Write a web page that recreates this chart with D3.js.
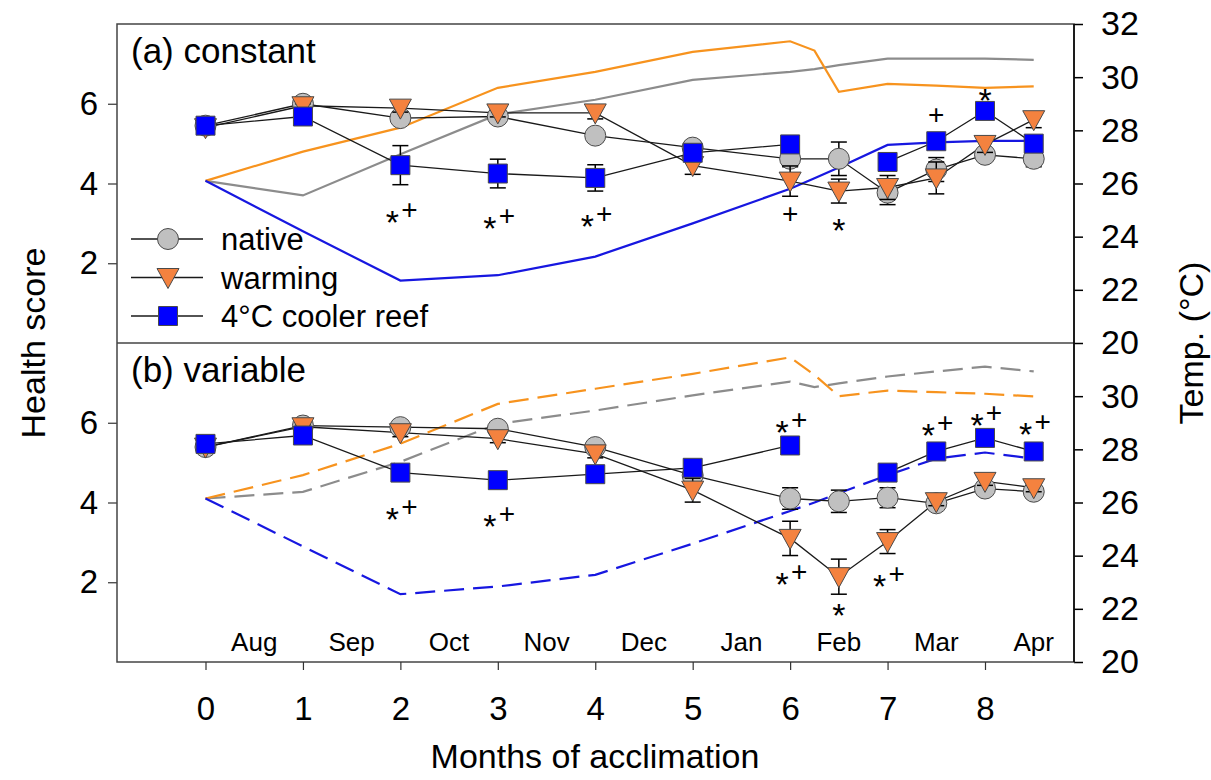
<!DOCTYPE html>
<html>
<head>
<meta charset="utf-8">
<script src="https://cdn.jsdelivr.net/npm/d3@7"></script>
<style>
  body { margin: 0; background: #fff; }
  svg { display: block; }
  text { font-family: "Liberation Sans", Arial, sans-serif; fill: #000; }
</style>
</head>
<body>
<div id="chart"></div>
<script>
// months of acclimation where health was scored
var months = [0, 1, 2, 3, 4, 5, 6, 6.5, 7, 7.5, 8, 8.5]

// (a) constant - health scores
var a_native = [5.45, 6.0, 5.64, 5.68, 5.2, 4.9, 4.62, 4.62, 3.77, 4.35, 4.72, 4.62]
var a_native_err = [0.05, 0.05, 0.1, 0.1, 0.15, 0.15, 0.2, 0.42, 0.3, 0.3, 0.15, 0.2]
var a_warming = [5.4, 5.95, 5.89, 5.77, 5.77, 4.45, 4.06, 3.81, 3.9, 4.14, 4.98, 5.6]
var a_warming_err = [0.05, 0.05, 0.1, 0.1, 0.15, 0.22, 0.38, 0.3, 0.3, 0.4, 0.2, 0.2]
var a_cooler = [5.45, 5.68, 4.46, 4.25, 4.14, 4.77, 4.98, null, 4.54, 5.06, 5.82, 5.0]
var a_cooler_err = [0.05, 0.05, 0.49, 0.36, 0.33, 0.2, 0.15, null, 0.2, 0.15, 0.1, 0.15]

// (b) variable - health scores
var b_native = [5.39, 5.93, 5.89, 5.85, 5.39, 4.68, 4.1, 4.03, 4.12, 3.98, 4.35, 4.27]
var b_native_err = [0.05, 0.05, 0.05, 0.05, 0.1, 0.15, 0.27, 0.28, 0.25, 0.1, 0.1, 0.15]
var b_warming = [5.39, 5.9, 5.75, 5.6, 5.22, 4.31, 3.1, 2.14, 3.02, 4.02, 4.53, 4.37]
var b_warming_err = [0.05, 0.05, 0.1, 0.1, 0.1, 0.3, 0.43, 0.44, 0.3, 0.1, 0.1, 0.1]
var b_cooler = [5.47, 5.68, 4.75, 4.56, 4.71, 4.87, 5.43, null, 4.75, 5.28, 5.62, 5.28]
var b_cooler_err = [0.05, 0.05, 0.1, 0.1, 0.1, 0.1, 0.1, null, 0.1, 0.1, 0.1, 0.1]

// temperature profiles (right axis)
var temp_months = [0, 1, 2, 3, 4, 5, 6, 6.25, 6.5, 7, 7.5, 8, 8.5]
var a_temp_warming = [26.1, 27.2, 28.1, 29.6, 30.2, 30.95, 31.35, 31.0, 29.45, 29.75, 29.68, 29.6, 29.65]
var a_temp_native = [26.1, 25.55, 27.1, 28.6, 29.15, 29.9, 30.2, 30.3, 30.45, 30.7, 30.7, 30.7, 30.65]
var a_temp_cooler = [26.1, 24.2, 22.35, 22.55, 23.25, 24.5, 25.8, 26.2, 26.6, 27.45, 27.55, 27.6, 27.6]
var b_temp_warming = [26.15, 27.03, 28.21, 29.71, 30.28, 30.84, 31.46, 30.8, 30.0, 30.21, 30.15, 30.09, 29.99]
var b_temp_native = [26.15, 26.4, 27.53, 28.96, 29.46, 30.03, 30.55, 30.34, 30.48, 30.74, 30.93, 31.11, 30.93]
var b_temp_cooler = [26.15, 24.35, 22.55, 22.84, 23.28, 24.45, 25.68, 26.0, 26.35, 27.03, 27.65, 27.88, 27.65]

// calendar months shown inside panel (b)
var month_names = ['Aug', 'Sep', 'Oct', 'Nov', 'Dec', 'Jan', 'Feb', 'Mar', 'Apr']

// significance labels: panel, month, text, height (health units)
var sig_panel = ['a', 'a', 'a', 'a', 'a', 'a', 'a', 'b', 'b', 'b', 'b', 'b', 'b', 'b', 'b', 'b']
var sig_month = [2, 3, 4, 6, 6.5, 7.5, 8, 2, 3, 6, 6, 6.5, 7, 7.5, 8, 8.5]
var sig_text = ['*+', '*+', '*+', '+', '*', '+', '*', '*+', '*+', '*+', '*+', '*', '*+', '*+', '*+', '*+']
var sig_level = [3.26, 3.11, 3.16, 3.16, 3.06, 5.64, 6.32, 3.81, 3.64, 6.0, 2.18, 1.4, 2.13, 5.92, 6.17, 5.94]

var left_ticks = [2, 4, 6]
var bottom_ticks = [0, 1, 2, 3, 4, 5, 6, 7, 8]

var width = 1211
var height = 780
var frame_left = 117
var frame_right = 1074
var frame_top = 24
var frame_mid = 343
var frame_bottom = 662

var col_native_fill = '#c0c0c0'
var col_warming_fill = '#f4823f'
var col_cooler_fill = '#0000ff'
var col_temp_native = '#8c8c8c'
var col_temp_warming = '#f7931e'
var col_temp_cooler = '#1717e0'

var svg = d3.select('#chart').append('svg')
  .attr('width', width)
  .attr('height', height)

var x = d3.scaleLinear().domain([0, 8]).range([205.5, 985])

var panels = [
  { id: 'a', label: '(a) constant', top: frame_top, bottom: frame_mid, dashed: false,
    native: a_native, native_err: a_native_err, warming: a_warming, warming_err: a_warming_err,
    cooler: a_cooler, cooler_err: a_cooler_err,
    t_native: a_temp_native, t_warming: a_temp_warming, t_cooler: a_temp_cooler },
  { id: 'b', label: '(b) variable', top: frame_mid, bottom: frame_bottom, dashed: true,
    native: b_native, native_err: b_native_err, warming: b_warming, warming_err: b_warming_err,
    cooler: b_cooler, cooler_err: b_cooler_err,
    t_native: b_temp_native, t_warming: b_temp_warming, t_cooler: b_temp_cooler }
]

function tri_down() {
  return 'M-11,-9L11,-9L0,11Z'
}

var circle_path = d3.symbol().type(d3.symbolCircle).size(Math.PI * 10.5 * 10.5)()
var square_path = d3.symbol().type(d3.symbolSquare).size(19 * 19)()

// asterisk and plus drawn as separate glyphs, the star a little lower than the plus
function draw_star(g, cx, cy) {
  g.append('text')
    .attr('x', cx).attr('y', cy + 21)
    .attr('text-anchor', 'middle')
    .style('font-size', '34px')
    .text('*')
}
function draw_plus(g, cx, cy) {
  g.append('text')
    .attr('x', cx).attr('y', cy + 6)
    .attr('text-anchor', 'middle')
    .style('font-size', '28px')
    .text('+')
}

panels.forEach(function(p, pi) {

  var y = d3.scaleLinear().domain([0, 8]).range([p.bottom, p.top])
  var yt = d3.scaleLinear().domain([20, 32]).range([p.bottom, p.top])
  var g = svg.append('g')

  // temperature lines
  var tline = d3.line()
    .x(function(d) { return x(d[0]) })
    .y(function(d) { return yt(d[1]) })

  ;[[p.t_native, col_temp_native], [p.t_warming, col_temp_warming], [p.t_cooler, col_temp_cooler]].forEach(function(s) {
    g.append('path')
      .datum(temp_months.map(function(m, i) { return [m, s[0][i]] }))
      .attr('d', tline)
      .attr('fill', 'none')
      .attr('stroke', s[1])
      .attr('stroke-width', 2.2)
      .attr('stroke-dasharray', p.dashed ? '20,9' : null)
  })

  // health lines
  var hline = d3.line()
    .defined(function(d) { return d[1] !== null })
    .x(function(d) { return x(d[0]) })
    .y(function(d) { return y(d[1]) })

  var series = [
    { v: p.native, e: p.native_err, path: circle_path, fill: col_native_fill },
    { v: p.warming, e: p.warming_err, path: tri_down(), fill: col_warming_fill },
    { v: p.cooler, e: p.cooler_err, path: square_path, fill: col_cooler_fill }
  ]

  series.forEach(function(s) {
    g.append('path')
      .datum(months.map(function(m, i) { return [m, s.v[i]] }))
      .attr('d', hline)
      .attr('fill', 'none')
      .attr('stroke', '#1a1a1a')
      .attr('stroke-width', 1.3)
  })

  series.forEach(function(s) {
    var pts = months.map(function(m, i) { return { m: m, v: s.v[i], e: s.e[i] } })
      .filter(function(d) { return d.v !== null })

    var eb = g.append('g')
    pts.forEach(function(d) {
      var cx = x(d.m)
      eb.append('line')
        .attr('x1', cx).attr('x2', cx)
        .attr('y1', y(d.v - d.e)).attr('y2', y(d.v + d.e))
        .attr('stroke', '#000').attr('stroke-width', 1.5)
      ;[d.v - d.e, d.v + d.e].forEach(function(v) {
        eb.append('line')
          .attr('x1', cx - 8).attr('x2', cx + 8)
          .attr('y1', y(v)).attr('y2', y(v))
          .attr('stroke', '#000').attr('stroke-width', 1.5)
      })
    })

    g.selectAll(null)
      .data(pts)
      .enter().append('path')
      .attr('d', s.path)
      .attr('transform', function(d) { return 'translate(' + x(d.m) + ',' + y(d.v) + ')' })
      .attr('fill', s.fill)
      .attr('stroke', '#4a4a4a')
      .attr('stroke-width', 1)
  })

  // significance labels
  sig_text.forEach(function(t, i) {
    if (sig_panel[i] !== p.id) return
    var cx = x(sig_month[i])
    var cy = y(sig_level[i])
    if (t === '*+') {
      draw_star(g, cx - 8, cy)
      draw_plus(g, cx + 9, cy)
    } else if (t === '*') {
      draw_star(g, cx, cy)
    } else {
      draw_plus(g, cx, cy)
    }
  })

  // left axis
  svg.append('g')
    .attr('transform', 'translate(' + frame_left + ',0)')
    .call(d3.axisLeft(y).tickValues(left_ticks).tickFormat(d3.format('d')).tickSize(9).tickPadding(10))
    .call(function(ax) {
      ax.select('.domain').remove()
      ax.selectAll('line').attr('stroke', '#333').attr('stroke-width', 1.2)
      ax.selectAll('text').style('font-size', '33px')
    })

  // right axis
  var rticks = pi === 0 ? [20, 22, 24, 26, 28, 30, 32] : [22, 24, 26, 28, 30]
  svg.append('g')
    .attr('transform', 'translate(' + frame_right + ',0)')
    .call(d3.axisRight(yt).tickValues(rticks).tickFormat(d3.format('d')).tickSize(9).tickPadding(18))
    .call(function(ax) {
      ax.select('.domain').remove()
      ax.selectAll('line').attr('stroke', '#000').attr('stroke-width', 1.5)
      ax.selectAll('text').style('font-size', '34px')
    })

  // panel label
  svg.append('text')
    .attr('x', 131)
    .attr('y', p.top + 39)
    .style('font-size', '35px')
    .text(p.label)
})

// bottom right tick for panel b (value 20)
var yt_b = d3.scaleLinear().domain([20, 32]).range([frame_bottom, frame_mid])
svg.append('g')
  .attr('transform', 'translate(' + frame_right + ',0)')
  .call(d3.axisRight(yt_b).tickValues([20]).tickFormat(d3.format('d')).tickSize(9).tickPadding(18))
  .call(function(ax) {
    ax.select('.domain').remove()
    ax.selectAll('line').attr('stroke', '#000').attr('stroke-width', 1.5)
    ax.selectAll('text').style('font-size', '34px')
  })

// frame
svg.append('rect')
  .attr('x', frame_left).attr('y', frame_top)
  .attr('width', frame_right - frame_left).attr('height', frame_bottom - frame_top)
  .attr('fill', 'none').attr('stroke', '#444').attr('stroke-width', 1.5)
svg.append('line')
  .attr('x1', frame_left).attr('x2', frame_right)
  .attr('y1', frame_mid).attr('y2', frame_mid)
  .attr('stroke', '#444').attr('stroke-width', 1.5)
svg.append('line')
  .attr('x1', frame_right).attr('x2', frame_right)
  .attr('y1', frame_top).attr('y2', frame_bottom)
  .attr('stroke', '#000').attr('stroke-width', 1.5)

// bottom axis
svg.append('g')
  .attr('transform', 'translate(0,' + frame_bottom + ')')
  .call(d3.axisBottom(x).tickValues(bottom_ticks).tickFormat(d3.format('d')).tickSize(8).tickPadding(27))
  .call(function(ax) {
    ax.select('.domain').remove()
    ax.selectAll('line').attr('stroke', '#333').attr('stroke-width', 1.2)
    ax.selectAll('text').style('font-size', '33px')
  })

// month names inside panel b
svg.selectAll('text.month')
  .data(month_names)
  .enter().append('text')
  .attr('class', 'month')
  .attr('x', function(d, i) { return x(i + 0.5) })
  .attr('y', 651)
  .attr('text-anchor', 'middle')
  .style('font-size', '26px')
  .text(function(d) { return d })

// legend
var legend_items = [
  ['native', circle_path, col_native_fill],
  ['warming', tri_down(), col_warming_fill],
  ['4°C cooler reef', square_path, col_cooler_fill]
]
legend_items.forEach(function(it, i) {
  var ly = 239 + i * 38.5
  svg.append('line')
    .attr('x1', 131).attr('x2', 203).attr('y1', ly).attr('y2', ly)
    .attr('stroke', '#1a1a1a').attr('stroke-width', 1.3)
  svg.append('path')
    .attr('d', it[1])
    .attr('transform', 'translate(168,' + ly + ')')
    .attr('fill', it[2]).attr('stroke', '#4a4a4a').attr('stroke-width', 1)
  svg.append('text')
    .attr('x', 221).attr('y', ly)
    .attr('dy', '0.36em')
    .style('font-size', '31px')
    .text(it[0])
})

// axis titles
svg.append('text')
  .attr('transform', 'translate(45,' + 343 + ') rotate(-90)')
  .attr('text-anchor', 'middle')
  .style('font-size', '34px')
  .text('Health score')

svg.append('text')
  .attr('transform', 'translate(1203,' + 343 + ') rotate(-90)')
  .attr('text-anchor', 'middle')
  .style('font-size', '34px')
  .text('Temp. (°C)')

svg.append('text')
  .attr('x', 595).attr('y', 768)
  .attr('text-anchor', 'middle')
  .style('font-size', '34px')
  .text('Months of acclimation')
</script>
</body>
</html>
